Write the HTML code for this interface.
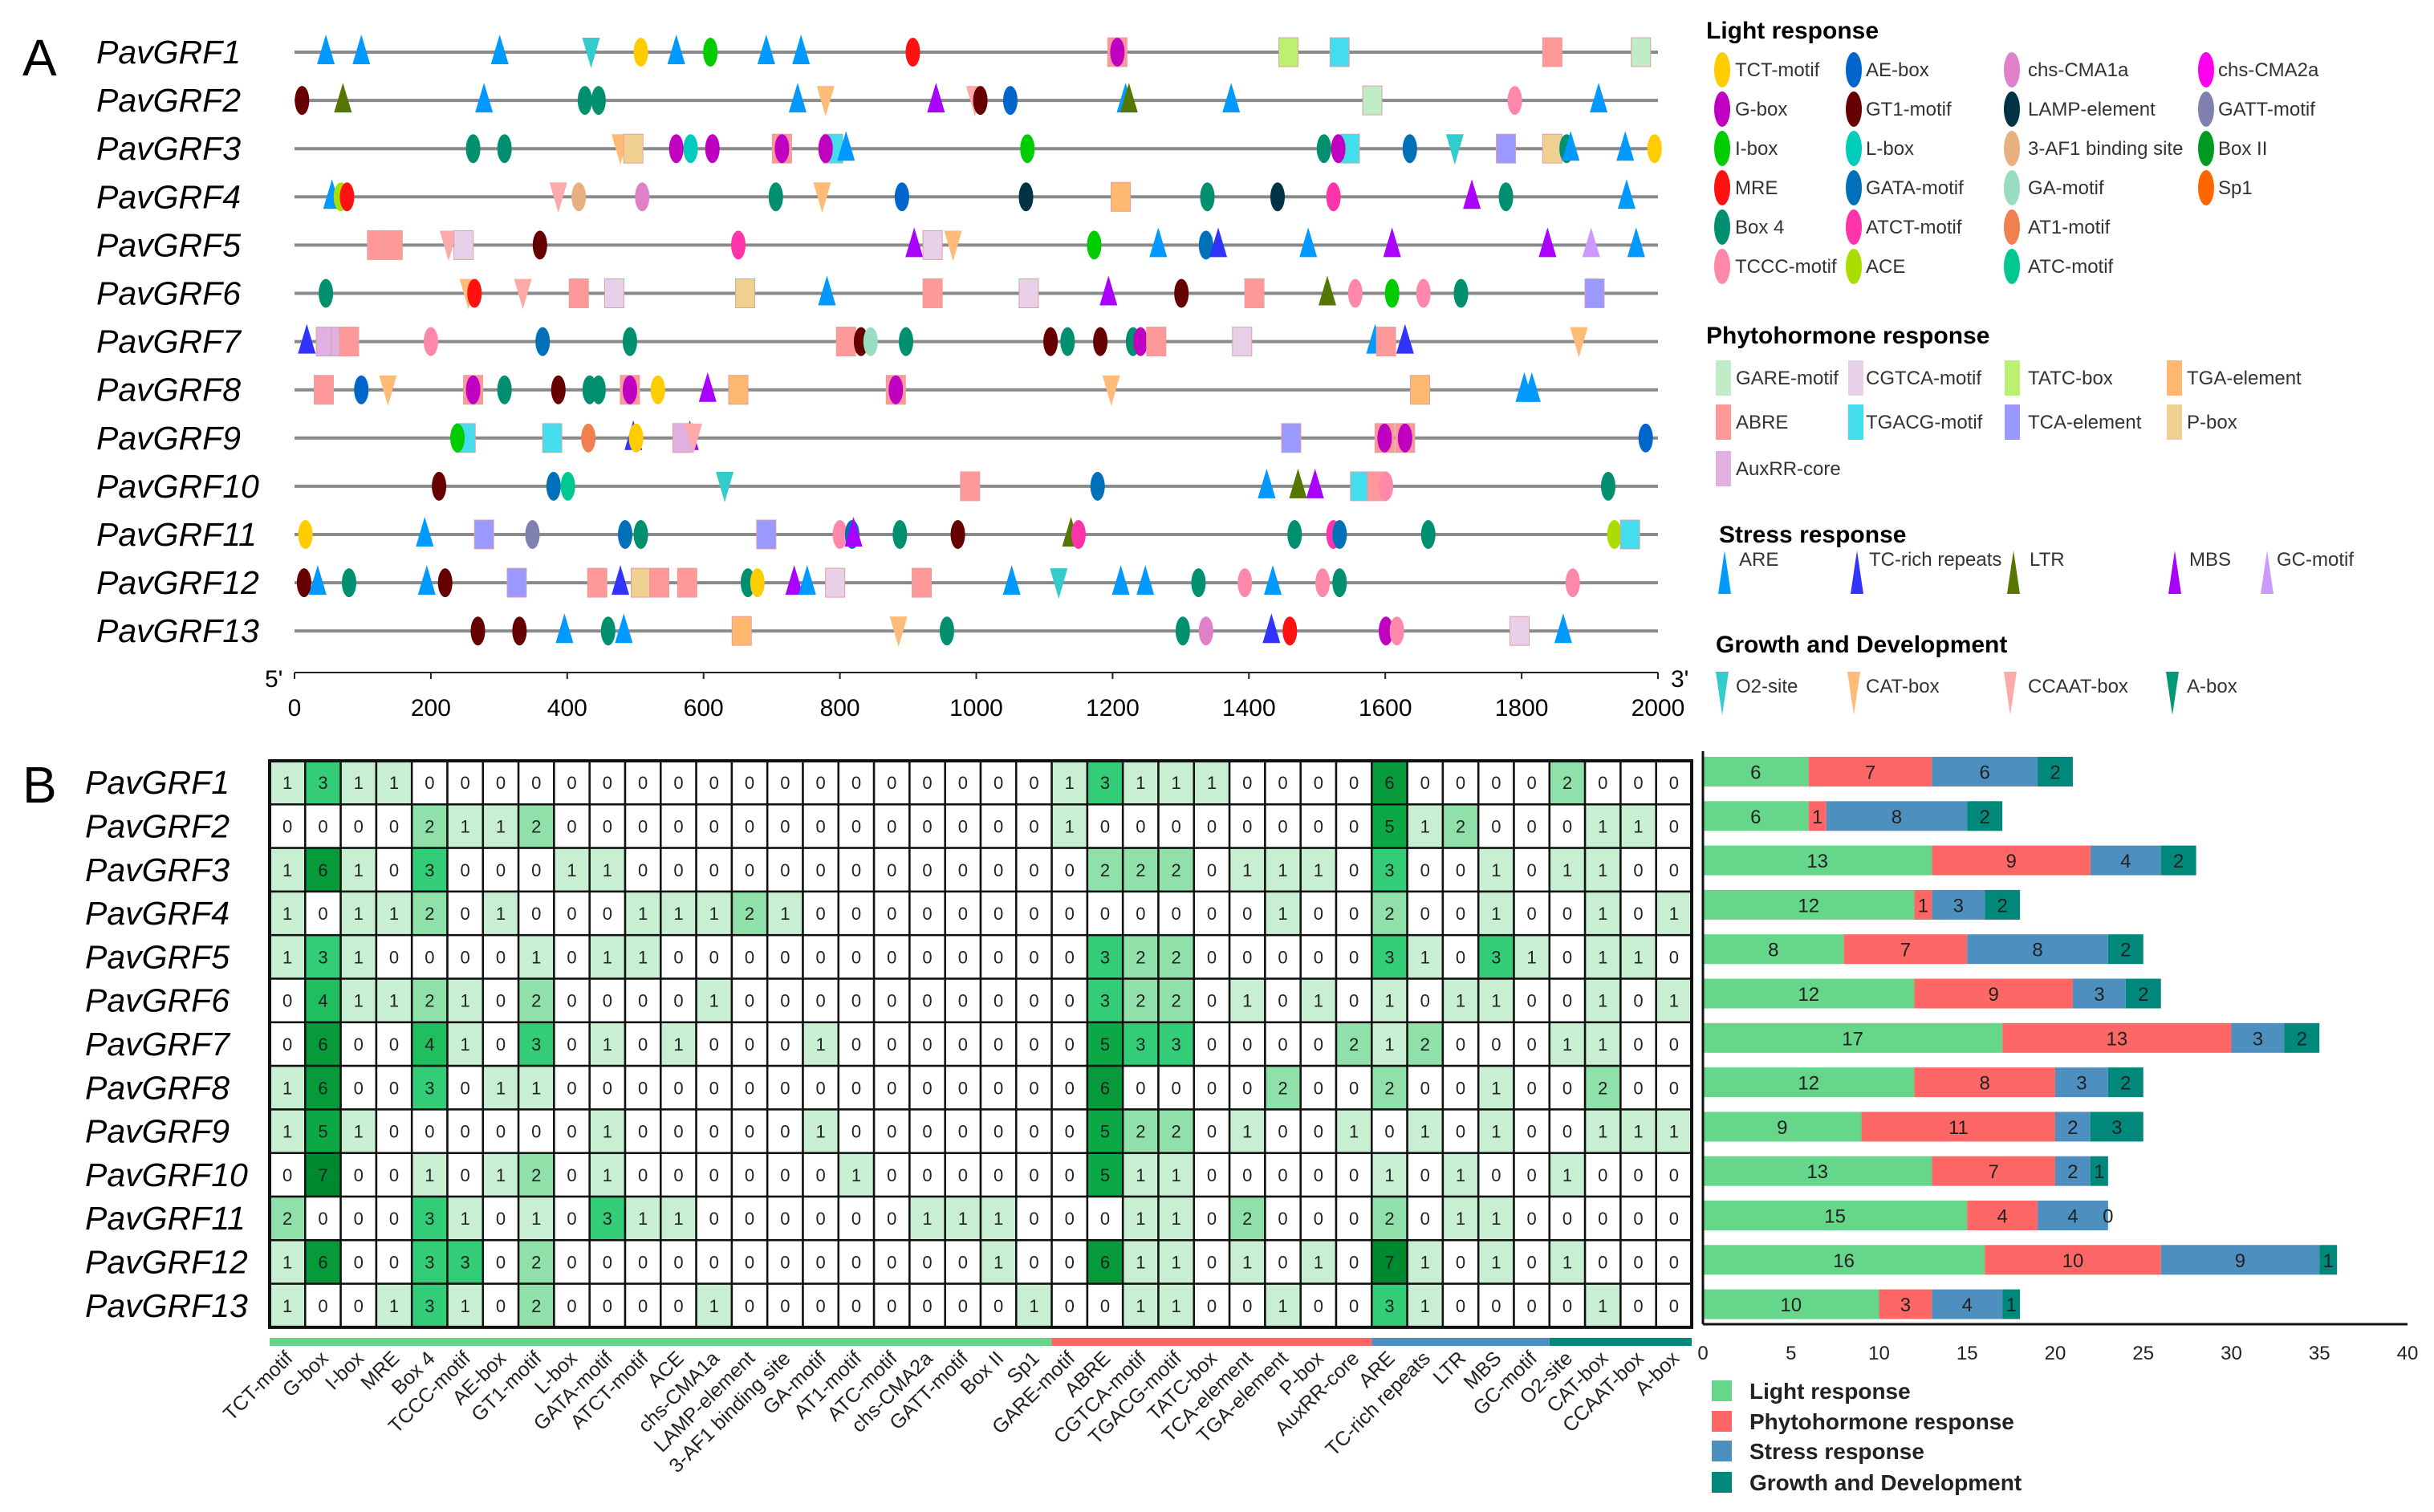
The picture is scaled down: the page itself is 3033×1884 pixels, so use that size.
<!DOCTYPE html>
<html><head><meta charset="utf-8"><style>
html,body{margin:0;padding:0;background:#fff;}
svg{display:block;font-family:"Liberation Sans",sans-serif;}
</style></head><body>
<svg id="fig" width="3033" height="1884" viewBox="0 0 3033 1884" xmlns="http://www.w3.org/2000/svg">
<rect width="3033" height="1884" fill="#fff"/>
<text x="28" y="94" font-size="64">A</text>
<text x="28" y="1000" font-size="64">B</text>
<g id="pa"></g><g id="leg"></g><g id="hm"></g><g id="bars"></g>
</svg>
<script>
const NS="http://www.w3.org/2000/svg";
function mk(tag,attrs,parent,txt){const e=document.createElementNS(NS,tag);for(const k in attrs)e.setAttribute(k,attrs[k]);if(txt!==undefined)e.textContent=txt;parent.appendChild(e);return e;}

// ---------- data ----------
const genes=["PavGRF1","PavGRF2","PavGRF3","PavGRF4","PavGRF5","PavGRF6","PavGRF7","PavGRF8","PavGRF9","PavGRF10","PavGRF11","PavGRF12","PavGRF13"];
const elements=["TCT-motif","G-box","I-box","MRE","Box 4","TCCC-motif","AE-box","GT1-motif","L-box","GATA-motif","ATCT-motif","ACE","chs-CMA1a","LAMP-element","3-AF1 binding site","GA-motif","AT1-motif","ATC-motif","chs-CMA2a","GATT-motif","Box II","Sp1","GARE-motif","ABRE","CGTCA-motif","TGACG-motif","TATC-box","TCA-element","TGA-element","P-box","AuxRR-core","ARE","TC-rich repeats","LTR","MBS","GC-motif","O2-site","CAT-box","CCAAT-box","A-box"];
const counts=[
[1,3,1,1,0,0,0,0,0,0,0,0,0,0,0,0,0,0,0,0,0,0,1,3,1,1,1,0,0,0,0,6,0,0,0,0,2,0,0,0],
[0,0,0,0,2,1,1,2,0,0,0,0,0,0,0,0,0,0,0,0,0,0,1,0,0,0,0,0,0,0,0,5,1,2,0,0,0,1,1,0],
[1,6,1,0,3,0,0,0,1,1,0,0,0,0,0,0,0,0,0,0,0,0,0,2,2,2,0,1,1,1,0,3,0,0,1,0,1,1,0,0],
[1,0,1,1,2,0,1,0,0,0,1,1,1,2,1,0,0,0,0,0,0,0,0,0,0,0,0,0,1,0,0,2,0,0,1,0,0,1,0,1],
[1,3,1,0,0,0,0,1,0,1,1,0,0,0,0,0,0,0,0,0,0,0,0,3,2,2,0,0,0,0,0,3,1,0,3,1,0,1,1,0],
[0,4,1,1,2,1,0,2,0,0,0,0,1,0,0,0,0,0,0,0,0,0,0,3,2,2,0,1,0,1,0,1,0,1,1,0,0,1,0,1],
[0,6,0,0,4,1,0,3,0,1,0,1,0,0,0,1,0,0,0,0,0,0,0,5,3,3,0,0,0,0,2,1,2,0,0,0,1,1,0,0],
[1,6,0,0,3,0,1,1,0,0,0,0,0,0,0,0,0,0,0,0,0,0,0,6,0,0,0,0,2,0,0,2,0,0,1,0,0,2,0,0],
[1,5,1,0,0,0,0,0,0,1,0,0,0,0,0,1,0,0,0,0,0,0,0,5,2,2,0,1,0,0,1,0,1,0,1,0,0,1,1,1],
[0,7,0,0,1,0,1,2,0,1,0,0,0,0,0,0,1,0,0,0,0,0,0,5,1,1,0,0,0,0,0,1,0,1,0,0,1,0,0,0],
[2,0,0,0,3,1,0,1,0,3,1,1,0,0,0,0,0,0,1,1,1,0,0,0,1,1,0,2,0,0,0,2,0,1,1,0,0,0,0,0],
[1,6,0,0,3,3,0,2,0,0,0,0,0,0,0,0,0,0,0,0,1,0,0,6,1,1,0,1,0,1,0,7,1,0,1,0,1,0,0,0],
[1,0,0,1,3,1,0,2,0,0,0,0,1,0,0,0,0,0,0,0,0,1,0,0,1,1,0,0,1,0,0,3,1,0,0,0,0,1,0,0]];
const groupNames=["Light response","Phytohormone response","Stress response","Growth and Development"];
const groupSizes=[22,9,5,4];
const lightVals=[6,6,13,12,8,12,17,12,9,13,15,16,10];
const phytoVals=[7,1,9,1,7,9,13,8,11,7,4,10,3];
const stressVals=[6,8,4,3,8,3,3,3,2,2,4,9,4];
const growthVals=[2,2,2,2,2,2,2,2,3,1,0,1,1];
const barTicks=[0,5,10,15,20,25,30,35,40];
const posTicks=[0,200,400,600,800,1000,1200,1400,1600,1800,2000];

const T={
TCT:["e","#ffcc00"],AE:["e","#0066cc"],CMA1a:["e","#e080c8"],CMA2a:["e","#ff00ee"],Gbox:["e","#c000c0"],GT1:["e","#660000"],LAMP:["e","#003344"],GATT:["e","#8080b0"],Ibox:["e","#00cc00"],Lbox:["e","#00ccbb"],AF1:["e","#e8b080"],BoxII:["e","#009922"],MRE:["e","#ff1111"],GATA:["e","#0070b8"],GAm:["e","#99ddc0"],Sp1:["e","#ff6600"],Box4:["e","#009070"],ATCT:["e","#ff33aa"],AT1:["e","#f08050"],TCCC:["e","#ff88aa"],ACE:["e","#aadd00"],ATC:["e","#00c890"],
GARE:["r","#c0ecc8"],CGTCA:["r","#e8d0e8"],TATC:["r","#bbf070"],TGA:["r","#ffb870"],ABRE:["r","#ff9999"],TGACG:["r","#44ddee"],TCA:["r","#9999ff"],Pbox:["r","#f0d090"],Aux:["r","#e0b0e0"],
ARE:["u","#0099ff"],TCrich:["u","#3333ff"],LTR:["u","#557700"],MBS:["u","#aa00ff"],GC:["u","#cc99ff"],
O2:["d","#33cccc"],CAT:["d","#ffbb77"],CCAAT:["d","#ffaaaa"],Abox:["d","#009977"]};
const sites=[
[["ARE",46],["ARE",98],["ARE",301],["O2",435],["TCT",508],["ARE",560],["Ibox",610],["ARE",692],["ARE",743],["MRE",907],["ABRE",1207],["Gbox",1207],["TATC",1458],["TGACG",1533],["ABRE",1845],["GARE",1975]],
[["GT1",11],["LTR",71],["ARE",278],["Box4",426],["Box4",446],["ARE",738],["CAT",779],["MBS",941],["CCAAT",998],["GT1",1006],["AE",1050],["ARE",1219],["LTR",1224],["ARE",1374],["GARE",1581],["TCCC",1790],["ARE",1913]],
[["Box4",262],["Box4",308],["CAT",478],["Pbox",497],["Gbox",560],["Lbox",581],["Gbox",613],["ABRE",715],["Gbox",715],["TGACG",790],["Gbox",779],["ARE",809],["Ibox",1075],["Box4",1510],["TGACG",1548],["Gbox",1531],["GATA",1636],["O2",1702],["TCA",1777],["Pbox",1845],["Box4",1866],["ARE",1872],["ARE",1952],["TCT",1995]],
[["ARE",55],["ACE",68],["MRE",77],["CCAAT",387],["AF1",417],["CMA1a",510],["Box4",706],["CAT",774],["AE",891],["LAMP",1073],["TGA",1212],["Box4",1339],["LAMP",1442],["ATCT",1524],["MBS",1727],["Box4",1777],["ARE",1954]],
[["ABRE",121],["ABRE",144],["CCAAT",226],["CGTCA",248],["GT1",360],["ATCT",651],["MBS",909],["CGTCA",936],["CAT",966],["Ibox",1173],["ARE",1267],["GATA",1337],["TCrich",1355],["ARE",1487],["MBS",1610],["MBS",1838],["GC",1902],["ARE",1968]],
[["Box4",46],["CAT",255],["MRE",264],["CCAAT",335],["ABRE",417],["CGTCA",469],["Pbox",661],["ARE",781],["ABRE",936],["CGTCA",1077],["MBS",1194],["GT1",1301],["ABRE",1408],["LTR",1515],["TCCC",1556],["Ibox",1610],["TCCC",1656],["Box4",1711],["TCA",1907]],
[["TCrich",18],["Aux",46],["Aux",68],["ABRE",80],["TCCC",200],["GATA",364],["Box4",492],["ABRE",809],["GT1",831],["GAm",845],["Box4",897],["GT1",1109],["Box4",1134],["GT1",1182],["Box4",1230],["Gbox",1241],["ABRE",1264],["CGTCA",1390],["ARE",1585],["ABRE",1601],["TCrich",1629],["CAT",1884]],
[["ABRE",43],["AE",98],["CAT",137],["ABRE",262],["Gbox",262],["Box4",308],["GT1",387],["Box4",433],["Box4",446],["ABRE",492],["Gbox",492],["TCT",533],["MBS",606],["TGA",651],["ABRE",882],["Gbox",882],["CAT",1198],["TGA",1651],["ARE",1804],["ARE",1815]],
[["TGACG",251],["Ibox",239],["TGACG",378],["AT1",431],["TCrich",497],["TCT",501],["MBS",580],["Aux",569],["CCAAT",585],["TCA",1462],["ABRE",1599],["Gbox",1599],["ABRE",1629],["Gbox",1629],["AE",1982]],
[["GT1",212],["GATA",380],["ATC",401],["O2",631],["ABRE",991],["GATA",1178],["ARE",1426],["LTR",1472],["MBS",1497],["TGACG",1563],["ABRE",1588],["TCCC",1601],["Box4",1927]],
[["TCT",16],["ARE",191],["TCA",278],["GATT",349],["GATA",485],["Box4",508],["TCA",692],["TCCC",800],["GATA",818],["MBS",820],["Box4",888],["GT1",973],["LTR",1139],["ATCT",1150],["Box4",1467],["ATCT",1524],["GATA",1533],["Box4",1663],["ACE",1936],["TGACG",1959]],
[["GT1",14],["ARE",34],["Box4",80],["ARE",194],["GT1",221],["TCA",326],["ABRE",444],["TCrich",478],["Pbox",508],["ABRE",535],["ABRE",576],["Box4",665],["TCT",679],["MBS",733],["ARE",752],["CGTCA",793],["ABRE",920],["ARE",1052],["O2",1121],["ARE",1212],["ARE",1248],["Box4",1326],["TCCC",1394],["ARE",1435],["TCCC",1508],["Box4",1533],["TCCC",1875]],
[["GT1",269],["GT1",330],["ARE",396],["Box4",460],["ARE",483],["TGA",656],["CAT",886],["Box4",957],["Box4",1303],["CMA1a",1337],["TCrich",1433],["MRE",1460],["Gbox",1601],["TCCC",1617],["CGTCA",1797],["ARE",1861]]];

// ---------- panel A ----------
const pa=document.getElementById('pa');
const ax0=367, ax1=2066, ay0=65, ady=60.1;
const px=p=>ax0+(p/2000)*(ax1-ax0);
function marker(type,x,y,g){
  const [s,c]=T[type]; let e;
  if(s==="e") e=mk('ellipse',{cx:x,cy:y,rx:9,ry:18,fill:c},g);
  else if(s==="r") e=mk('rect',{x:x-12,y:y-18,width:24,height:36,fill:c,stroke:"#e0a0a0","stroke-width":1},g);
  else if(s==="u") e=mk('polygon',{points:`${x},${y-22} ${x-11},${y+15} ${x+11},${y+15}`,fill:c},g);
  else e=mk('polygon',{points:`${x-11},${y-18} ${x+11},${y-18} ${x},${y+20}`,fill:c},g);
  return e;
}
genes.forEach((gname,i)=>{
  const y=ay0+i*ady;
  const lab=mk('text',{x:120,y:y+14,"font-size":41,"font-style":"italic"},pa,gname);
  
  
  const ln=mk('line',{x1:ax0,y1:y,x2:ax1,y2:y,stroke:"#8a8a8a","stroke-width":4},pa);
  
  
  sites[i].forEach(s=>{
    const m=marker(s[0],px(s[1]),y,pa);
    
    
  });
});
const axl=mk('line',{x1:ax0,y1:838,x2:ax1,y2:838,stroke:"#222","stroke-width":2},pa);


posTicks.forEach(t=>{
  const tk=mk('line',{x1:px(t),y1:838,x2:px(t),y2:846,stroke:"#222","stroke-width":2},pa);
  
  
  const tl=mk('text',{x:px(t),y:892,"font-size":30,"text-anchor":"middle"},pa,String(t));
  
  
});
mk('text',{x:330,y:856,"font-size":30,},pa,"5'");
mk('text',{x:2082,y:856,"font-size":30,},pa,"3'");

// ---------- legend A ----------
const lg=document.getElementById('leg');
function head(x,y,t){const h=mk('text',{x:x,y:y,"font-size":30,"font-weight":"bold"},lg,t);}
function item(type,ix,tx,cy,label,kind){
  const [s,c]=T[type]; let e;
  if(kind==="e") e=mk('ellipse',{cx:ix,cy:cy,rx:10,ry:22,fill:c},lg);
  else if(kind==="r") e=mk('rect',{x:ix,y:cy-22,width:19,height:44,fill:c},lg);
  else if(kind==="u") e=mk('polygon',{points:`${ix},${cy-24} ${ix-8},${cy+30} ${ix+8},${cy+30}`,fill:c},lg);
  else e=mk('polygon',{points:`${ix-8},${cy-18} ${ix+8},${cy-18} ${ix},${cy+36}`,fill:c},lg);
  
  
  const t=mk('text',{x:tx,y:kind==="u"?cy-5:cy+8,"font-size":24,fill:"#333"},lg,label);
  
  
}
head(2126,48,"Light response");
const lRows=[87,136,185,234,283,332];
const lCols=[[2146,2162],[2310,2325],[2507,2527],[2749,2764]];
const lightLeg=[["TCT","TCT-motif"],["Gbox","G-box"],["Ibox","I-box"],["MRE","MRE"],["Box4","Box 4"],["TCCC","TCCC-motif"],
["AE","AE-box"],["GT1","GT1-motif"],["Lbox","L-box"],["GATA","GATA-motif"],["ATCT","ATCT-motif"],["ACE","ACE"],
["CMA1a","chs-CMA1a"],["LAMP","LAMP-element"],["AF1","3-AF1 binding site"],["GAm","GA-motif"],["AT1","AT1-motif"],["ATC","ATC-motif"],
["CMA2a","chs-CMA2a"],["GATT","GATT-motif"],["BoxII","Box II"],["Sp1","Sp1"]];
lightLeg.forEach((d,k)=>{const c=Math.floor(k/6),r=k%6;item(d[0],lCols[c][0],lCols[c][1],lRows[r],d[1],"e");});
head(2126,428,"Phytohormone response");
const pLeg=[["GARE","GARE-motif"],["CGTCA","CGTCA-motif"],["TATC","TATC-box"],["TGA","TGA-element"],["ABRE","ABRE"],["TGACG","TGACG-motif"],["TCA","TCA-element"],["Pbox","P-box"],["Aux","AuxRR-core"]];
const pCols=[[2138,2163],[2303,2325],[2498,2527],[2700,2725]];const pRows=[471,526,584];
pLeg.forEach((d,k)=>{const c=k%4,r=Math.floor(k/4);item(d[0],pCols[c][0],pCols[c][1],pRows[r],d[1],"r");});
head(2142,676,"Stress response");
const sLeg=[["ARE","ARE",2149,2167],["TCrich","TC-rich repeats",2314,2329],["LTR","LTR",2509,2529],["MBS","MBS",2710,2728],["GC","GC-motif",2825,2837]];
sLeg.forEach(d=>item(d[0],d[2],d[3],710,d[1],"u"));
head(2138,813,"Growth and Development");
const gLeg=[["O2","O2-site",2146,2163],["CAT","CAT-box",2310,2325],["CCAAT","CCAAT-box",2505,2527],["Abox","A-box",2707,2725]];
gLeg.forEach(d=>item(d[0],d[2],d[3],855,d[1],"d"));

// ---------- heatmap ----------
const hm=document.getElementById('hm');
const hx0=336, hy0=948, cw=44.3, ch=54.3;
const heatCols=["#ffffff","#c9efd3","#8fe0a9","#33cc77","#1fbf5f","#0aa945","#069a3a","#008a30"];
genes.forEach((g,i)=>{
  const yc=hy0+i*ch+ch/2;
  const lab=mk('text',{x:106,y:yc+14,"font-size":41,"font-style":"italic"},hm,g);
  
  
  counts[i].forEach((v,j)=>{
    const r=mk('rect',{x:hx0+j*cw,y:hy0+i*ch,width:cw,height:ch,fill:heatCols[Math.min(v,7)],stroke:"#111","stroke-width":2.5},hm);
    
    
    const t=mk('text',{x:hx0+j*cw+cw/2,y:yc+8,"font-size":22,"text-anchor":"middle",fill:"#222"},hm,String(v));
    
    
  });
});
mk('rect',{x:hx0,y:hy0,width:cw*40,height:ch*13,fill:"none",stroke:"#111","stroke-width":4,},hm);
const gCols=["#66d68a","#ff6666","#4d8fbf","#00897b"];
let cst=0;
groupSizes.forEach((n,k)=>{
  const r=mk('rect',{x:hx0+cst*cw,y:1667,width:n*cw,height:10,fill:gCols[k]},hm);
  
  
  cst+=n;
});
elements.forEach((e,j)=>{
  const x=hx0+j*cw+cw/2+8, y=1694;
  const t=mk('text',{x:x,y:y,"font-size":25,"text-anchor":"end",transform:`rotate(-45 ${x} ${y})`,fill:"#222"},hm,e);
  
  
});

// ---------- stacked bars ----------
const bg=document.getElementById('bars');
const bx0=2122, bx1=3000, by0=943, bdy=55.3, bh=37;
const bx=v=>bx0+(v/40)*(bx1-bx0);
const series=[lightVals,phytoVals,stressVals,growthVals];
genes.forEach((g,i)=>{
  let acc=0; const y=by0+i*bdy;
  series.forEach((s,k)=>{
    const v=s[i];
    const r=mk('rect',{x:bx(acc),y:y,width:bx(acc+v)-bx(acc),height:bh,fill:gCols[k]},bg);
    
    
    const t=mk('text',{x:(bx(acc)+bx(acc+v))/2,y:y+bh/2+9,"font-size":24,"text-anchor":"middle",fill:"#222"},bg,String(v));
    
    
    acc+=v;
  });
});
mk('line',{x1:bx0,y1:936,x2:bx0,y2:1650,stroke:"#111","stroke-width":3,},bg);
mk('line',{x1:bx0,y1:1650,x2:bx1,y2:1650,stroke:"#111","stroke-width":3,},bg);
barTicks.forEach(t=>{
  const tl=mk('text',{x:bx(t),y:1694,"font-size":24,"text-anchor":"middle",fill:"#222"},bg,String(t));
  
  
});
const legY=[1733,1771,1808,1847];
groupNames.forEach((n,k)=>{
  const r=mk('rect',{x:2133,y:legY[k]-13,width:25,height:26,fill:gCols[k]},bg);
  
  
  const t=mk('text',{x:2180,y:legY[k]+10,"font-size":28,"font-weight":"bold",fill:"#222"},bg,n);
  
  
});
</script>
</body></html>
